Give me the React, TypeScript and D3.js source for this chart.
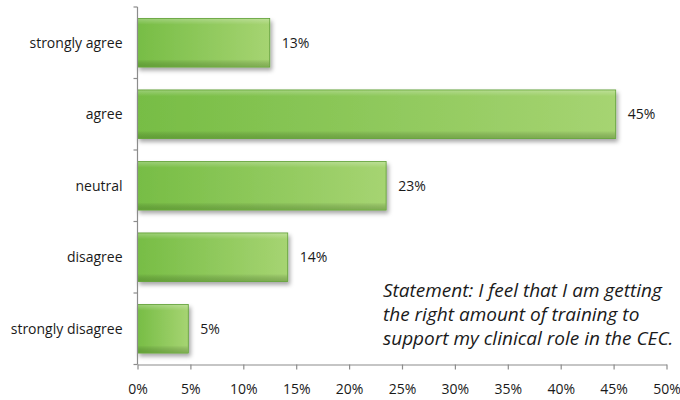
import React, { useEffect, useRef } from 'react';
import * as d3 from 'd3';

const categories = ['strongly agree', 'agree', 'neutral', 'disagree', 'strongly disagree'];
const values = [12.5, 45.2, 23.5, 14.2, 4.8];
const valueLabels = ['13%', '45%', '23%', '14%', '5%'];
const xTicks = [0, 5, 10, 15, 20, 25, 30, 35, 40, 45, 50];
const statementLines = [
  'Statement: I feel that I am getting',
  'the right amount of training to',
  'support my clinical role in the CEC.',
];

const App: React.FC = () => {
  const svgRef = useRef<SVGSVGElement>(null);

  useEffect(() => {
    if (!svgRef.current) return;
    const svg = d3.select(svgRef.current);
    svg.selectAll('*').remove();

    const margin = { top: 7, right: 13.5, bottom: 35.5, left: 137.5 };
    const width = 680 - margin.left - margin.right;
    const height = 400 - margin.top - margin.bottom;
    const font = "'Open Sans', 'Noto Sans', sans-serif";

    const defs = svg.append('defs');
    const grad = defs.append('linearGradient').attr('id', 'barFill')
      .attr('x1', '0%').attr('x2', '100%').attr('y1', '0%').attr('y2', '0%');
    grad.append('stop').attr('offset', '0%').attr('stop-color', '#77bd45');
    grad.append('stop').attr('offset', '100%').attr('stop-color', '#a6d472');

    const bevel = defs.append('linearGradient').attr('id', 'bevel')
      .attr('x1', '0%').attr('x2', '0%').attr('y1', '0%').attr('y2', '100%');
    bevel.append('stop').attr('offset', '0%').attr('stop-color', '#ffffff').attr('stop-opacity', 0.25);
    bevel.append('stop').attr('offset', '12%').attr('stop-color', '#ffffff').attr('stop-opacity', 0);
    bevel.append('stop').attr('offset', '85%').attr('stop-color', '#000000').attr('stop-opacity', 0);
    bevel.append('stop').attr('offset', '100%').attr('stop-color', '#2e5a12').attr('stop-opacity', 0.3);

    const shadow = defs.append('filter').attr('id', 'shadow')
      .attr('x', '-10%').attr('y', '-20%').attr('width', '130%').attr('height', '160%');
    shadow.append('feDropShadow').attr('dx', 2).attr('dy', 3).attr('stdDeviation', 2)
      .attr('flood-color', '#000').attr('flood-opacity', 0.35);

    const g = svg.append('g').attr('transform', `translate(${margin.left},${margin.top})`);

    const x = d3.scaleLinear().domain([0, 50]).range([0, width]);
    const y = d3.scaleBand().domain(categories).range([0, height]).paddingInner(0.32).paddingOuter(0.16);

    // Bars
    const bars = g.selectAll('.bar').data(values).enter().append('g').attr('class', 'bar');
    bars.append('rect')
      .attr('x', 0)
      .attr('y', (_, i) => y(categories[i]) || 0)
      .attr('width', d => x(d))
      .attr('height', y.bandwidth())
      .attr('fill', 'url(#barFill)')
      .attr('stroke', '#5e9e34')
      .attr('stroke-width', 0.8)
      .attr('filter', 'url(#shadow)');
    bars.append('rect')
      .attr('x', 0.5)
      .attr('y', (_, i) => (y(categories[i]) || 0) + 0.5)
      .attr('width', d => Math.max(0, x(d) - 1))
      .attr('height', y.bandwidth() - 1)
      .attr('fill', 'url(#bevel)');

    // Value labels
    g.selectAll('.val').data(values).enter().append('text')
      .attr('x', d => x(d) + 12)
      .attr('y', (_, i) => (y(categories[i]) || 0) + y.bandwidth() / 2)
      .attr('dy', '0.35em')
      .style('font-family', font)
      .style('font-size', '14px')
      .style('fill', '#1a1a1a')
      .text((_, i) => valueLabels[i]);

    // Y axis
    const yAxis = g.append('g');
    yAxis.append('line').attr('x1', 0).attr('x2', 0).attr('y1', 0).attr('y2', height)
      .attr('stroke', '#8c8c8c').attr('stroke-width', 1.2);
    const yEdges = categories.map(c => (y(c) || 0) - (y.step() * y.paddingInner()) / 2).concat([height]);
    yEdges.forEach(v => {
      yAxis.append('line').attr('x1', -4).attr('x2', 0).attr('y1', Math.max(0, v)).attr('y2', Math.max(0, v))
        .attr('stroke', '#8c8c8c').attr('stroke-width', 1.2);
    });
    yAxis.selectAll('text').data(categories).enter().append('text')
      .attr('x', -15)
      .attr('y', d => (y(d) || 0) + y.bandwidth() / 2)
      .attr('dy', '0.35em')
      .attr('text-anchor', 'end')
      .style('font-family', font)
      .style('font-size', '14px')
      .style('fill', '#1a1a1a')
      .text(d => d);

    // X axis
    const xAxis = g.append('g')
      .attr('transform', `translate(0,${height})`)
      .call(d3.axisBottom(x).tickValues(xTicks).tickSize(5).tickSizeOuter(0).tickPadding(15).tickFormat(d => `${d}%`));
    xAxis.select('.domain').attr('stroke', '#8c8c8c').attr('stroke-width', 1.2);
    xAxis.selectAll('.tick line').attr('stroke', '#8c8c8c').attr('stroke-width', 1.2);
    xAxis.selectAll('.tick text')
      .style('font-family', font)
      .style('font-size', '14px')
      .style('fill', '#1a1a1a');

    // Statement
    const st = svg.append('text')
      .attr('x', 383)
      .attr('y', 297)
      .style('font-family', font)
      .style('font-style', 'italic')
      .style('font-size', '19px')
      .style('fill', '#1a1a1a');
    statementLines.forEach((line, i) => {
      st.append('tspan').attr('x', 383).attr('y', 297 + i * 24).text(line);
    });
  }, []);

  return (
    <svg
      ref={svgRef}
      width={680}
      height={400}
      style={{ position: 'absolute', left: 0, top: 0, background: '#fff' }}
    />
  );
};

export default App;
